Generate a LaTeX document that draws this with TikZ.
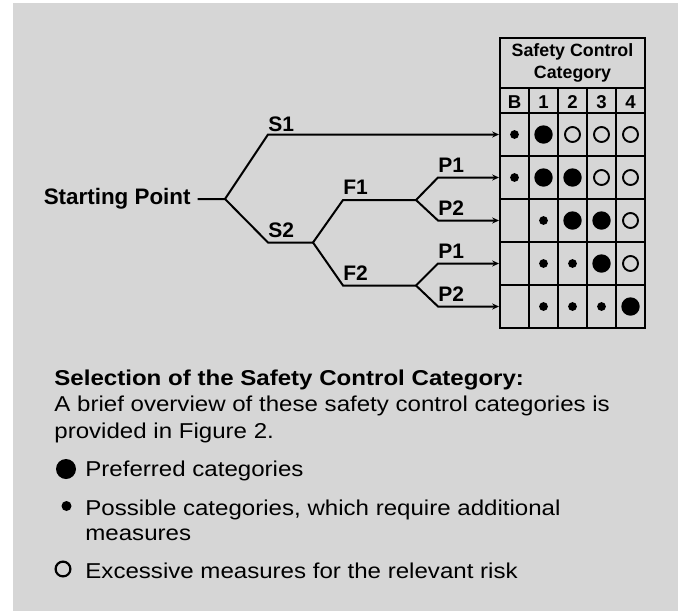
\documentclass[tikz,border=0pt]{standalone}
\usepackage{fontspec}
\setmainfont{Liberation Sans}
\newfontfamily\legendfont[FakeStretch=1.12]{Liberation Sans}
\usepackage{tikz}
\usetikzlibrary{arrows.meta, positioning}
\definecolor{panel}{RGB}{214,214,214}

\begin{document}
\begin{tikzpicture}[
  x=0.5pt, y=-0.5pt,
  branch/.style={line width=1pt},
  arr/.style={-{Stealth[length=3.4pt, width=3pt]}},
  tblline/.style={line width=1pt},
  lbl/.style={font=\bfseries\fontsize{10.5}{12}\selectfont, inner sep=0pt, anchor=base west},
  colhead/.style={font=\bfseries\fontsize{9.3}{11}\selectfont, inner sep=0pt, anchor=base},
  legend/.style={font=\legendfont\fontsize{10.75}{13}\selectfont, inner sep=0pt, anchor=base west},
  markb/.style={circle, fill, inner sep=0pt, minimum size=9.2pt},
  marks/.style={circle, fill, inner sep=0pt, minimum size=4.4pt},
  marko/.style={circle, draw, line width=0.95pt, inner sep=0pt, minimum size=7.5pt},
  markn/.style={inner sep=0pt}
]
  \useasboundingbox (0,0) rectangle (678,611);
  \fill[white] (0,0) rectangle (678,611);
  \fill[panel] (13,3) rectangle (678,611);

  % category table
  \draw[tblline] (500,38) rectangle (645,328);
  \foreach \y in {88,113,156,199,242,285}
    \draw[tblline] (500,\y) -- (645,\y);
  \foreach \x in {529,558,587,616}
    \draw[tblline] (\x,88) -- (\x,328);
  \node[font=\bfseries\fontsize{8.9}{10.85}\selectfont, align=center, inner sep=0pt]
    (hdr) at (572.5,63) {Safety Control\\Category};
  \foreach \c [count=\i from 0] in {B,1,2,3,4}
    \node[colhead] (col\i) at ({514.5+29*\i},108.3) {\c};
  \foreach \row [count=\r from 0] in {{s,b,o,o,o},{s,b,b,o,o},{n,s,b,b,o},{n,s,s,b,o},{n,s,s,s,b}} {
    \coordinate (row\r) at (499,{134.5+43*\r});
    \foreach \m [count=\c from 0] in \row
      \node[mark\m] (m\r\c) at ({514.5+29*\c},{134.5+43*\r}) {};
  }

  % risk graph
  \node[font=\bfseries\fontsize{11.2}{13}\selectfont, inner sep=0pt, anchor=east]
    (start) at (191,199) {Starting Point};
  \coordinate (root) at (225,199);
  \coordinate (s1) at (268,134.5);
  \coordinate (s2) at (268,242.5);
  \coordinate (s2fork) at (313,242.5);
  \coordinate (f1) at (343,200);
  \coordinate (f1fork) at (416,200);
  \coordinate (f2) at (343,285.5);
  \coordinate (f2fork) at (416,285.5);
  \coordinate (p1a) at (438,177.5);
  \coordinate (p2a) at (438,220.5);
  \coordinate (p1b) at (438,263.5);
  \coordinate (p2b) at (438,306.5);

  \draw[branch] ([xshift=3.3pt]start.east) -- (root) -- (s2) -- (s2fork);
  \draw[branch, arr] (root) -- (s1) -- (row0);
  \draw[branch] (s2fork) -- (f1) -- (f1fork);
  \draw[branch] (s2fork) -- (f2) -- (f2fork);
  \draw[branch, arr] (f1fork) -- (p1a) -- (row1);
  \draw[branch, arr] (f1fork) -- (p2a) -- (row2);
  \draw[branch, arr] (f2fork) -- (p1b) -- (row3);
  \draw[branch, arr] (f2fork) -- (p2b) -- (row4);

  \node[lbl] (ls1) at (268,131) {S1};
  \node[lbl] (ls2) at (268,237) {S2};
  \node[lbl] (lf1) at (343,194.5) {F1};
  \node[lbl] (lf2) at (343,280) {F2};
  \node[lbl] (lp1a) at (438,172.5) {P1};
  \node[lbl] (lp2a) at (438,215.5) {P2};
  \node[lbl] (lp1b) at (438,258.5) {P1};
  \node[lbl] (lp2b) at (438,301.5) {P2};

  % legend
  \node[legend, font=\legendfont\bfseries\fontsize{10.75}{13}\selectfont]
    (lhead) at (54,385.7) {Selection of the Safety Control Category:};
  \node[legend] (lbody1) at (54,411.7) {A brief overview of these safety control categories is};
  \node[legend] (lbody2) at (54,438) {provided in Figure 2.};
  \node[markb, minimum size=10pt] (kbig) at (66,469) {};
  \node[legend] (tbig) at (85,476) {Preferred categories};
  \node[marks, minimum size=5pt] (ksmall) at (66.5,506) {};
  \node[legend] (tsmall) at (85,515) {Possible categories, which require additional};
  \node[legend] (tsmall2) at (85,540) {measures};
  \node[circle, draw, line width=1.1pt, inner sep=0pt, minimum size=7.4pt]
    (kopen) at (63,569) {};
  \node[legend] (topen) at (85,578) {Excessive measures for the relevant risk};
\end{tikzpicture}
\end{document}
